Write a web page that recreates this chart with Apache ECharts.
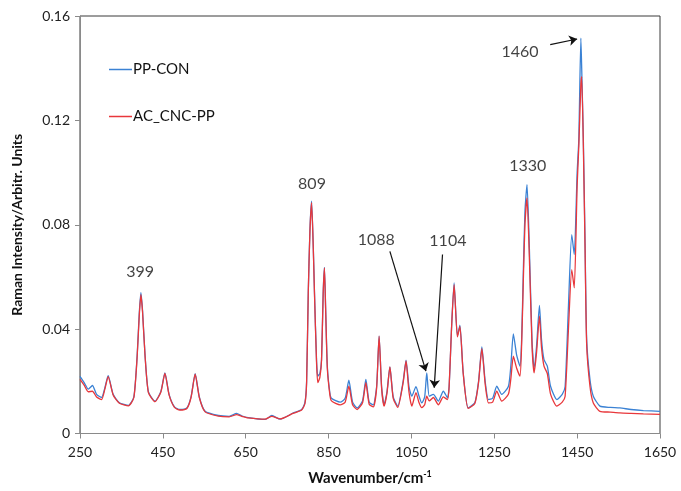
<!DOCTYPE html>
<html>
<head>
<meta charset="utf-8"/>
<title>Raman spectra</title>
<script type="text/javascript" src="https://cdn.jsdelivr.net/npm/echarts@6/dist/echarts.min.js"></script>
<style type="text/css">
	body{
		margin: 0px;
		padding: 0px;
		background: #fff;
	}
	#chart {
		width: 681px;
		height: 491px;
	}
</style>
</head>
<body>
	<div id="chart"></div>
<script type="text/javascript">
	// wavenumber (cm-1)
	var wavenumbers = [
		250,260,270,280,290,302,310,318,330,345,
		367,380,388,393,397,401,407,415,431,445,
		455,465,478,491,508,518,528,538,552,584,
		610,628,640,656,697,713,733,764,785,793,
		797,801,805,809,813,816,821,824,829,833,
		837,840,843,847,853,857,878,890,899,908,
		919,932,940,948,958,966,972,978,984,991,
		998,1006,1017,1030,1037,1044,1051,1061,1068,1075,
		1082,1087,1093,1103,1115,1127,1137,1141,1147,1153,
		1161,1167,1175,1187,1203,1212,1220,1228,1236,1246,
		1256,1268,1284,1290,1296,1304,1312,1316,1320,1324,
		1329,1334,1341,1346,1352,1359,1364,1370,1378,1386,
		1401,1414,1421,1429,1437,1443,1450,1454,1459,1461,
		1465,1469,1473,1481,1489,1505,1530,1553,1580,1610,
		1650
	];
	// PP-CON intensity
	var ppCon = [
		0.0219,0.0195,0.0170,0.0184,0.0150,0.0138,0.0175,0.0222,0.0150,0.0118,
		0.0108,0.0140,0.0300,0.0460,0.0540,0.0470,0.0300,0.0160,0.0124,0.0160,
		0.0232,0.0150,0.0102,0.0092,0.0098,0.0140,0.0229,0.0140,0.0085,0.0069,
		0.0066,0.0077,0.0068,0.0061,0.0054,0.0069,0.0055,0.0078,0.0092,0.0119,
		0.0200,0.0540,0.0780,0.0890,0.0720,0.0540,0.0280,0.0220,0.0230,0.0283,
		0.0540,0.0637,0.0475,0.0258,0.0157,0.0135,0.0120,0.0135,0.0204,0.0120,
		0.0098,0.0125,0.0207,0.0120,0.0110,0.0180,0.0373,0.0180,0.0110,0.0160,
		0.0255,0.0140,0.0105,0.0200,0.0281,0.0180,0.0143,0.0180,0.0145,0.0117,
		0.0140,0.0232,0.0143,0.0150,0.0124,0.0162,0.0137,0.0180,0.0410,0.0577,
		0.0373,0.0415,0.0232,0.0098,0.0118,0.0200,0.0332,0.0200,0.0130,0.0135,
		0.0181,0.0150,0.0180,0.0260,0.0382,0.0300,0.0258,0.0360,0.0615,0.0850,
		0.0954,0.0750,0.0360,0.0252,0.0334,0.0491,0.0360,0.0283,0.0258,0.0180,
		0.0130,0.0150,0.0180,0.0488,0.0762,0.0686,0.1000,0.1126,0.1515,0.1400,
		0.1126,0.0743,0.0360,0.0207,0.0143,0.0105,0.0100,0.0098,0.0092,0.0088,
		0.0085
	];
	// AC_CNC-PP intensity
	var acCncPp = [
		0.0207,0.0185,0.0160,0.0162,0.0140,0.0130,0.0170,0.0218,0.0148,0.0116,
		0.0106,0.0138,0.0295,0.0450,0.0532,0.0465,0.0298,0.0158,0.0122,0.0158,
		0.0230,0.0148,0.0100,0.0090,0.0096,0.0138,0.0227,0.0138,0.0083,0.0067,
		0.0064,0.0072,0.0066,0.0060,0.0055,0.0066,0.0056,0.0077,0.0090,0.0115,
		0.0195,0.0540,0.0775,0.0885,0.0715,0.0535,0.0270,0.0195,0.0215,0.0280,
		0.0535,0.0635,0.0470,0.0250,0.0150,0.0125,0.0110,0.0120,0.0181,0.0110,
		0.0092,0.0118,0.0195,0.0112,0.0102,0.0175,0.0373,0.0175,0.0105,0.0155,
		0.0255,0.0135,0.0100,0.0195,0.0278,0.0160,0.0105,0.0157,0.0120,0.0099,
		0.0110,0.0143,0.0125,0.0138,0.0110,0.0140,0.0130,0.0180,0.0410,0.0570,
		0.0370,0.0410,0.0230,0.0096,0.0115,0.0195,0.0325,0.0190,0.0117,0.0120,
		0.0162,0.0124,0.0150,0.0210,0.0296,0.0250,0.0220,0.0340,0.0580,0.0800,
		0.0903,0.0710,0.0340,0.0232,0.0310,0.0450,0.0330,0.0258,0.0230,0.0150,
		0.0105,0.0120,0.0143,0.0400,0.0628,0.0558,0.0950,0.1100,0.1340,0.1368,
		0.1100,0.0720,0.0340,0.0180,0.0117,0.0085,0.0082,0.0079,0.0077,0.0075,
		0.0073
	];
	var xTicks = [250,450,650,850,1050,1250,1450,1650];

	// peak labels: text and where they sit
	var peakNames = ['399','809','1088','1104','1330','1460'];
	var peakLabelX = [395,810,965,1138,1331,1312];
	var peakLabelY = [0.0620,0.0958,0.0743,0.0739,0.1026,0.1463];

	// arrows: start -> end
	var arrowFrom = [[998,0.0698],[1125,0.0686],[1385,0.1490]];
	var arrowTo = [[1085,0.0239],[1105,0.0175],[1450,0.1512]];

	var fontName = 'Lato';

	function pairs(xs, ys){
		var out = [];
		for(var i=0;i<xs.length;i++){
			out.push([xs[i], ys[i]]);
		}
		return out;
	}

	var labelData = [];
	for(var i=0;i<peakNames.length;i++){
		labelData.push({value:[peakLabelX[i], peakLabelY[i]], name: peakNames[i]});
	}
	var arrowData = [];
	for(var j=0;j<arrowFrom.length;j++){
		arrowData.push([{coord: arrowFrom[j]},{coord: arrowTo[j]}]);
	}

	var myChart = echarts.init(document.getElementById('chart'));
	var option = {
		animation: false,
		grid: {
			left: 80,
			right: 21,
			top: 16,
			bottom: 57,
			show: true,
			borderColor: '#3a3a3a',
			borderWidth: 1
		},
		legend: {
			data: ['PP-CON','AC_CNC-PP'],
			orient: 'vertical',
			left: 104,
			top: 57,
			itemGap: 32,
			icon: 'rect',
			itemWidth: 23,
			itemHeight: 1.5,
			textStyle: {
				fontFamily: fontName,
				fontSize: 15,
				color: '#111',
				padding: [0,0,0,-4]
			}
		},
		xAxis: {
			type: 'value',
			min: 250,
			max: 1650,
			name: '{a|Wavenumber/cm}{b|-1}',
			nameLocation: 'middle',
			nameGap: 36,
			nameTextStyle: {
				rich: {
					a: {fontFamily: fontName, fontSize: 15, fontWeight: 'bold', color: '#111'},
					b: {fontFamily: fontName, fontSize: 9, fontWeight: 'bold', color: '#111', padding: [0,0,9,0]}
				}
			},
			splitLine: {show: false},
			axisLine: {onZero: false, lineStyle: {color: '#8a8a8a'}},
			axisTick: {
				show: true,
				inside: false,
				length: 5,
				customValues: xTicks,
				lineStyle: {color: '#8a8a8a'}
			},
			axisLabel: {
				customValues: xTicks,
				margin: 12,
				fontFamily: fontName,
				fontSize: 14,
				color: '#222',
				formatter: function (v) {
					return String(v);
				}
			}
		},
		yAxis: {
			type: 'value',
			min: 0,
			max: 0.16,
			interval: 0.04,
			name: 'Raman Intensity/Arbitr. Units',
			nameLocation: 'middle',
			nameGap: 56,
			nameTextStyle: {
				fontFamily: fontName,
				fontSize: 14,
				fontWeight: 'bold',
				color: '#111'
			},
			splitLine: {show: false},
			axisLine: {show: true, lineStyle: {color: '#8a8a8a'}},
			axisTick: {show: true, inside: false, length: 5, lineStyle: {color: '#8a8a8a'}},
			axisLabel: {
				margin: 10,
				fontFamily: fontName,
				fontSize: 14,
				color: '#222'
			}
		},
		series: [
			{
				name: 'PP-CON',
				type: 'line',
				symbol: 'none',
				smooth: 0.2,
				color: '#3b82d4',
				lineStyle: {width: 1.3},
				data: pairs(wavenumbers, ppCon)
			},
			{
				name: 'AC_CNC-PP',
				type: 'line',
				symbol: 'none',
				smooth: 0.2,
				color: '#e8373b',
				lineStyle: {width: 1.3},
				data: pairs(wavenumbers, acCncPp),
				markLine: {
					silent: true,
					symbol: ['none','arrow'],
					symbolSize: 8,
					label: {show: false},
					lineStyle: {color: '#111', width: 1.2, type: 'solid'},
					data: arrowData
				}
			},
			{
				name: 'peaks',
				type: 'scatter',
				symbolSize: 0,
				silent: true,
				label: {
					show: true,
					position: 'inside',
					formatter: '{b}',
					fontFamily: fontName,
					fontSize: 16,
					color: '#111'
				},
				data: labelData
			}
		]
	};
	myChart.setOption(option);
</script>
</body>
</html>
